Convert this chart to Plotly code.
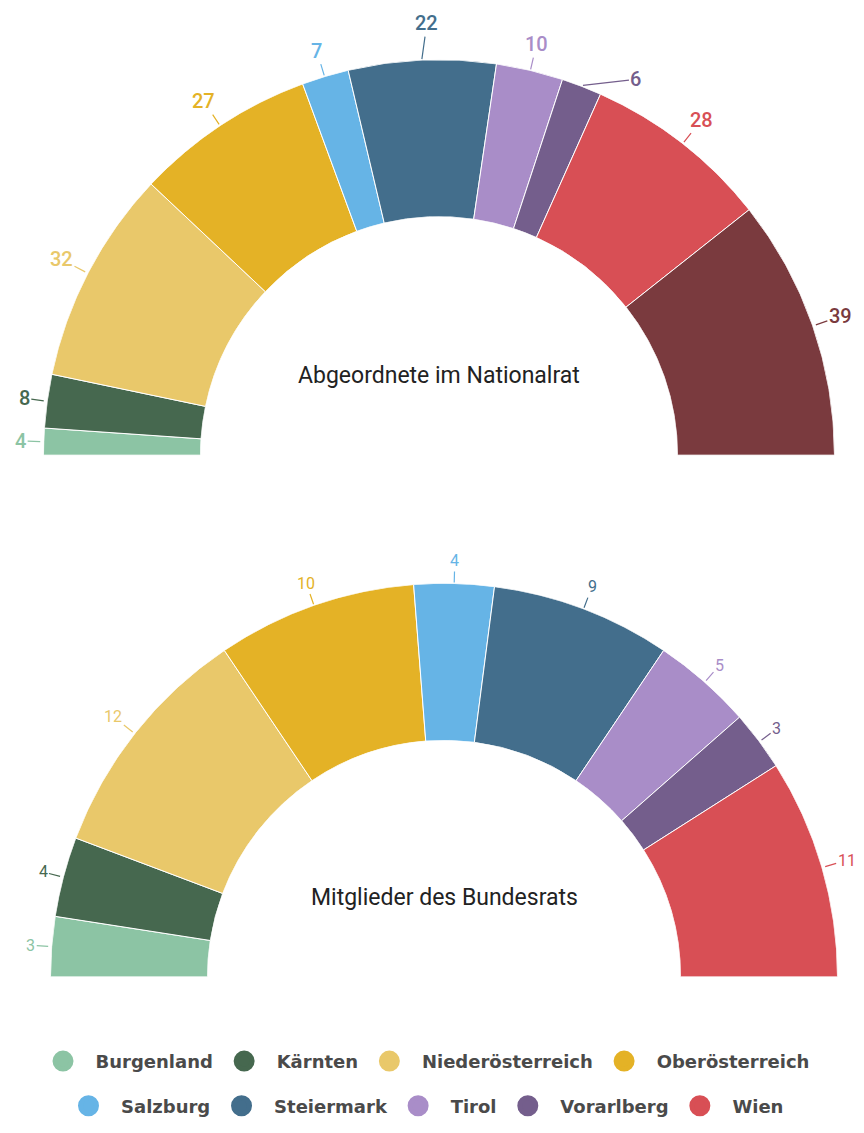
import math
import plotly.graph_objects as go

# ---------------- data ----------------
states = ["Burgenland", "Kärnten", "Niederösterreich", "Oberösterreich",
          "Salzburg", "Steiermark", "Tirol", "Vorarlberg", "Wien"]
state_colors = ["#8cc4a4", "#46684f", "#e9c86a", "#e4b226",
                "#66b4e6", "#436e8c", "#a98dc8", "#745e8c", "#d84f55"]

nationalrat_labels = states + ["Sonstige"]
nationalrat_values = [4, 8, 32, 27, 7, 22, 10, 6, 28, 39]
nationalrat_colors = state_colors + ["#7a3a3e"]

bundesrat_labels = states
bundesrat_values = [3, 4, 12, 10, 4, 9, 5, 3, 11]
bundesrat_colors = state_colors

# the page body adds a margin around the figure
OFF_X, OFF_Y = 8, 5
W, H = 864 - 16, 1133 - 16

# label placement overrides (pixel offset of text from the slice edge)
label_shift = {("polar", "Vorarlberg"): (53, -6),
               ("polar", "Steiermark"): (5, -36)}

fig = go.Figure()
annotations = []


def add_half(values, labels, colors, polar_id, cx, cy, R, hole, title,
             fsize, fweight, line_len):
    cx, cy = cx - OFF_X, cy - OFF_Y
    total = sum(values)
    cum = 0
    for v, lab, col in zip(values, labels, colors):
        span = v / total * 180.0
        mid = (cum + v / 2) / total * 180.0
        fig.add_trace(go.Barpolar(
            r=[1], theta=[mid], width=[span], base=[0],
            marker=dict(color=col, line=dict(color="white", width=1)),
            name=lab, subplot=polar_id, showlegend=False,
            legendgroup=lab, hovertemplate=f"{lab}: {v}<extra></extra>",
        ))
        # outside value label with a short connector
        phi = math.radians(180.0 - mid)
        dx, dy = math.cos(phi), math.sin(phi)
        tx = cx + (R + 1) * dx
        ty = cy - (R + 1) * dy
        txt = str(v)
        half_w = 0.56 * fsize * len(txt) / 2 + 1
        half_h = 0.62 * fsize
        edge = min(half_w / max(abs(dx), 1e-6), half_h / max(abs(dy), 1e-6))
        dist = line_len + edge
        ax, ay = dist * dx, -dist * dy
        if (polar_id, lab) in label_shift:
            ax, ay = label_shift[(polar_id, lab)]
        annotations.append(dict(
            x=tx / W, y=1 - ty / H, xref="paper", yref="paper",
            ax=ax, ay=ay, xanchor="center", yanchor="middle",
            text=txt, showarrow=True, arrowhead=0, arrowwidth=1.2,
            arrowcolor=col, standoff=0,
            font=dict(color=col, family="Roboto", size=fsize, weight=fweight),
        ))
        cum += v
    annotations.append(dict(
        x=cx / W, y=1 - (cy - 80) / H, xref="paper", yref="paper",
        xanchor="center", yanchor="middle",
        text=title, showarrow=False,
        font=dict(family="Roboto", size=23, color="#222222"),
    ))
    domain = dict(x=[(cx - R) / W, (cx + R) / W], y=[1 - cy / H, 1 - (cy - R) / H])
    return dict(
        domain=domain, sector=[0, 180], hole=hole, bgcolor="rgba(0,0,0,0)",
        bargap=0,
        radialaxis=dict(visible=False, range=[0, 1]),
        angularaxis=dict(visible=False, direction="clockwise", rotation=180,
                         showgrid=False, showline=False, showticklabels=False, ticks=""),
    )


polar1 = add_half(nationalrat_values, nationalrat_labels, nationalrat_colors, "polar",
                  439, 455, 398, 0.603, "Abgeordnete im Nationalrat", 20, 500, 13)
polar2 = add_half(bundesrat_values, bundesrat_labels, bundesrat_colors, "polar2",
                  444, 980, 396, 0.601, "Mitglieder des Bundesrats", 16, 400, 12)

# legend entries (circle symbols)
NBSP = "\u00a0"
for i, (lab, col) in enumerate(zip(states, state_colors)):
    fig.add_trace(go.Scatterpolar(
        r=[None], theta=[None], mode="markers", subplot="polar",
        marker=dict(color=col, size=16, symbol="circle",
                    line=dict(color=col, width=5)),
        name=NBSP * 2 + lab + NBSP, legendgroup=lab, showlegend=True,
        legend="legend" if i < 4 else "legend2",
    ))

legend_font = dict(family="DejaVu Sans", size=18, color="#4a4a4a", weight="bold")
fig.update_layout(
    width=W, height=H,
    margin=dict(l=0, r=0, t=0, b=0),
    paper_bgcolor="white", plot_bgcolor="white",
    polar=polar1, polar2=polar2,
    annotations=annotations,
    legend=dict(orientation="h", x=0.5, xanchor="center", y=1 - (1065 - OFF_Y) / H,
                yanchor="middle", font=legend_font, itemsizing="trace",
                bgcolor="rgba(0,0,0,0)"),
    legend2=dict(orientation="h", x=0.5, xanchor="center", y=1 - (1110 - OFF_Y) / H,
                 yanchor="middle", font=legend_font, itemsizing="trace",
                 bgcolor="rgba(0,0,0,0)"),
)

fig.write_html("out.html")
